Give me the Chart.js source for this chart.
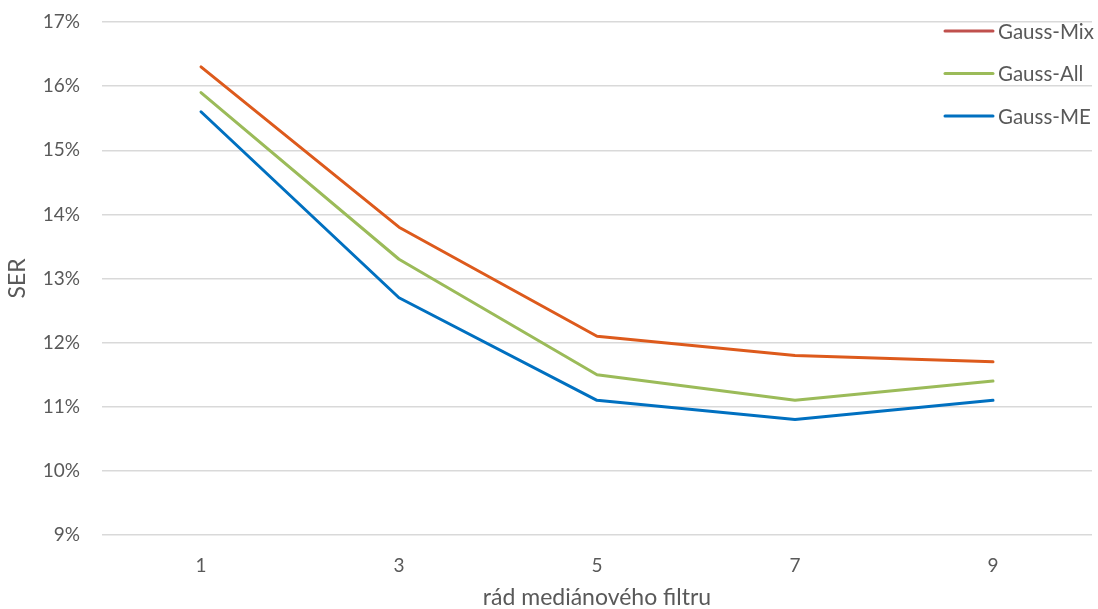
<!DOCTYPE html>
<html>
<head>
<meta charset="utf-8">
<style>
  html, body { margin: 0; padding: 0; background: #ffffff; }
  #wrap { width: 1098px; height: 609px; }
</style>
<script src="https://cdn.jsdelivr.net/npm/chart.js@4/dist/chart.umd.min.js"></script>
</head>
<body>
<div id="wrap"><canvas id="c" width="1098" height="609"></canvas></div>
<script>
// Filter order (x categories)
const filterOrders = ['1', '3', '5', '7', '9'];

// Symbol error rate, in percent
const gaussMix = [16.3, 13.8, 12.1, 11.8, 11.7];
const gaussAll = [15.9, 13.3, 11.5, 11.1, 11.4];
const gaussME  = [15.6, 12.7, 11.1, 10.8, 11.1];

const seriesNames = ['Gauss-Mix', 'Gauss-All', 'Gauss-ME'];
const lineColors = ['#DD5A1C', '#9BBB59', '#0070C0'];
const legendColors = ['#C0504D', '#9BBB59', '#0070C0'];

const FONT = 'Lato, "Open Sans", sans-serif';
const TEXT = '#595959';

// Legend drawn over the top-right of the plot, like the office-style chart
const cornerLegend = {
  id: 'cornerLegend',
  afterDraw(chart) {
    const ctx = chart.ctx;
    ctx.save();
    ctx.font = '20.5px ' + FONT;
    ctx.textBaseline = 'middle';
    ctx.textAlign = 'left';
    chart.data.datasets.forEach((ds, i) => {
      const y = 31 + i * 42.5;
      ctx.strokeStyle = legendColors[i];
      ctx.lineWidth = 3;
      ctx.lineCap = 'round';
      ctx.beginPath();
      ctx.moveTo(945, y);
      ctx.lineTo(993, y);
      ctx.stroke();
      ctx.fillStyle = TEXT;
      ctx.fillText(ds.label, 998, y + 1);
    });
    ctx.restore();
  }
};

const seriesData = [gaussMix, gaussAll, gaussME];

new Chart(document.getElementById('c'), {
  type: 'line',
  data: {
    labels: filterOrders,
    datasets: seriesData.map((vals, i) => ({
      label: seriesNames[i],
      data: vals,
      borderColor: lineColors[i],
      backgroundColor: lineColors[i],
      borderWidth: 3,
      pointRadius: 0,
      tension: 0,
      borderCapStyle: 'round',
      borderJoinStyle: 'round'
    }))
  },
  options: {
    responsive: false,
    animation: false,
    layout: { padding: { top: 22, right: 6, left: 0, bottom: 0 } },
    plugins: {
      legend: { display: false },
      tooltip: { enabled: false }
    },
    scales: {
      x: {
        offset: true,
        grid: { display: false, drawTicks: false },
        border: { display: false },
        ticks: { color: TEXT, font: { family: FONT, size: 19 }, padding: 19 },
        title: {
          display: true,
          text: 'rád mediánového filtru',
          color: TEXT,
          font: { family: FONT, size: 23, lineHeight: 1 },
          padding: { top: 4, bottom: 0 }
        },
        afterFit(scale) { scale.height = 74; }
      },
      y: {
        min: 9,
        max: 17,
        ticks: {
          stepSize: 1,
          color: TEXT,
          font: { family: FONT, size: 19 },
          padding: 0,
          callback: v => v + '%'
        },
        // invisible tick marks keep the labels clear of the plot
        grid: {
          color: '#D9D9D9',
          lineWidth: 1.5,
          drawTicks: true,
          tickLength: 22,
          tickColor: 'rgba(0,0,0,0)'
        },
        border: { display: false },
        title: {
          display: true,
          text: 'SER',
          color: TEXT,
          font: { family: FONT, size: 23, lineHeight: 1 },
          padding: { top: 6, bottom: 0 }
        },
        afterFit(scale) { scale.width = 102; }
      }
    }
  },
  plugins: [cornerLegend]
});
</script>
</body>
</html>
